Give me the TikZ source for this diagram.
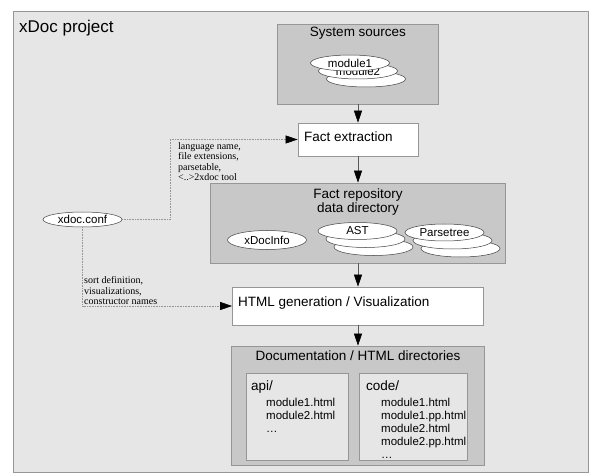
\documentclass[tikz,border=0pt]{standalone}
\usepackage{fontspec}
\setmainfont{Liberation Sans}
\newfontfamily\notefont{Liberation Serif}
\usetikzlibrary{arrows.meta,shapes.geometric}
\definecolor{projgray}{RGB}{230,230,230}
\definecolor{areagray}{RGB}{200,200,200}
\definecolor{linegray}{RGB}{150,150,150}
\tikzset{
    %Define standard arrow tip
    >={Triangle[length=12pt,width=8pt,color=black]},
    %Define style for boxes
    area/.style={
           rectangle,
           draw=linegray, line width=0.7pt,
           fill=areagray,
           inner sep=0pt},
    stepbox/.style={
           rectangle,
           draw=linegray, line width=0.7pt,
           fill=white,
           inner sep=0pt},
    listbox/.style={
           rectangle,
           draw=linegray, line width=0.7pt,
           fill=projgray,
           minimum height=87pt,
           inner sep=0pt},
    fileell/.style={
           ellipse,
           draw=black!75, line width=0.5pt,
           fill=white,
           minimum width=79pt,
           minimum height=16pt,
           inner sep=0pt,
           font=\fontsize{11.5}{12}\selectfont},
    title/.style={
           font=\fontsize{13.5}{14}\selectfont,
           inner sep=0pt},
    listtext/.style={
           font=\fontsize{11.5}{13.2}\selectfont,
           align=left,
           inner sep=0pt},
    note/.style={
           font=\notefont\fontsize{10}{10.5}\selectfont,
           align=left,
           inner sep=0pt},
    % Define arrow style
    pil/.style={
           ->,
           draw=black!65, line width=0.6pt},
    conf/.style={
           ->,
           densely dotted,
           draw=linegray, line width=0.6pt}
}
\begin{document}
\begin{tikzpicture}[x=1pt,y=-1pt]
\useasboundingbox (0,0) rectangle (603,476);
 %project frame
\node[rectangle, draw=linegray, line width=0.7pt, fill=projgray,
      minimum width=575pt, minimum height=461pt] (frame) at (300.5,241.5) {};
\node[anchor=base west, inner sep=0pt, font=\fontsize{17}{20}\selectfont] (projname) at (19,33) {xDoc project};
 %system sources
\node[area, minimum width=161pt, minimum height=80pt] (sources) at (358,64) {};
\node[title, anchor=base] (sourcestitle) at (358,37) {System sources};
\node[fileell] (mod3) at (366,79) {};
\node[fileell] (mod2) at (358,71) {module2};
\node[fileell] (mod1) at (350,63) {module1};
 %fact extraction
\node[stepbox, minimum width=120pt, minimum height=33pt] (extract) at (358,139.5) {};
\node[title, anchor=base west] (extracttext) at (304,142) {Fact extraction};
 %fact repository
\node[area, minimum width=295pt, minimum height=80pt] (repo) at (358,223) {};
\node[title, anchor=north, align=center] (repotitle) at (358,188.3) {Fact repository\\data directory};
\node[fileell, minimum height=19pt] (info) at (267,240) {xDocInfo};
\node[fileell, minimum height=17pt] (ast3) at (373.5,247) {};
\node[fileell, minimum height=17pt] (ast2) at (365.5,239) {};
\node[fileell, minimum height=17pt] (ast1) at (357.5,231) {AST};
\node[fileell, minimum height=17pt] (tree3) at (460.5,248.5) {};
\node[fileell, minimum height=17pt] (tree2) at (452.5,240.5) {};
\node[fileell, minimum height=17pt] (tree1) at (444.5,232.5) {Parsetree};
 %html generation
\node[stepbox, minimum width=251pt, minimum height=38pt] (html) at (358,306) {};
\node[title, anchor=base west] (htmltext) at (238,306) {HTML generation / Visualization};
 %documentation
\node[area, minimum width=253pt, minimum height=119pt] (docs) at (358,405.5) {};
\node[title, anchor=base] (docstitle) at (358,360) {Documentation / HTML directories};
\node[listbox, minimum width=102pt] (api) at (297,416.5) {};
\node[listbox, minimum width=108pt] (code) at (413,416.5) {};
\node[title, anchor=base west] (apihead) at (251,390) {api/};
\node[listtext, anchor=north west] (apilist) at (266,397.6) {module1.html\\module2.html\\\ldots};
\node[title, anchor=base west] (codehead) at (366,390) {code/};
\node[listtext, anchor=north west] (codelist) at (381,397.6) {module1.html\\module1.pp.html\\module2.html\\module2.pp.html\\\ldots};
 %configuration
\node[fileell, minimum height=15pt] (conf) at (82.5,219.5) {xdoc.conf};
\coordinate (bend1) at (170,139.5);
\node[note, anchor=north west] (extractnote) at (178,142.2) {language name,\\file extensions,\\parsetable,\\\textless..\textgreater2xdoc tool};
\node[note, anchor=north west] (htmlnote) at (84,276.7) {sort definition,\\visualizations,\\constructor names};
 %flow
\path[pil]
    (sources) edge (extract)
    (extract) edge (repo)
    (repo) edge (html)
    (html) edge (docs);
\draw[conf] (conf.east) -| (bend1) -- (extract.west);
\draw[conf] (conf.south) |- (html.west);
\end{tikzpicture}
\end{document}
